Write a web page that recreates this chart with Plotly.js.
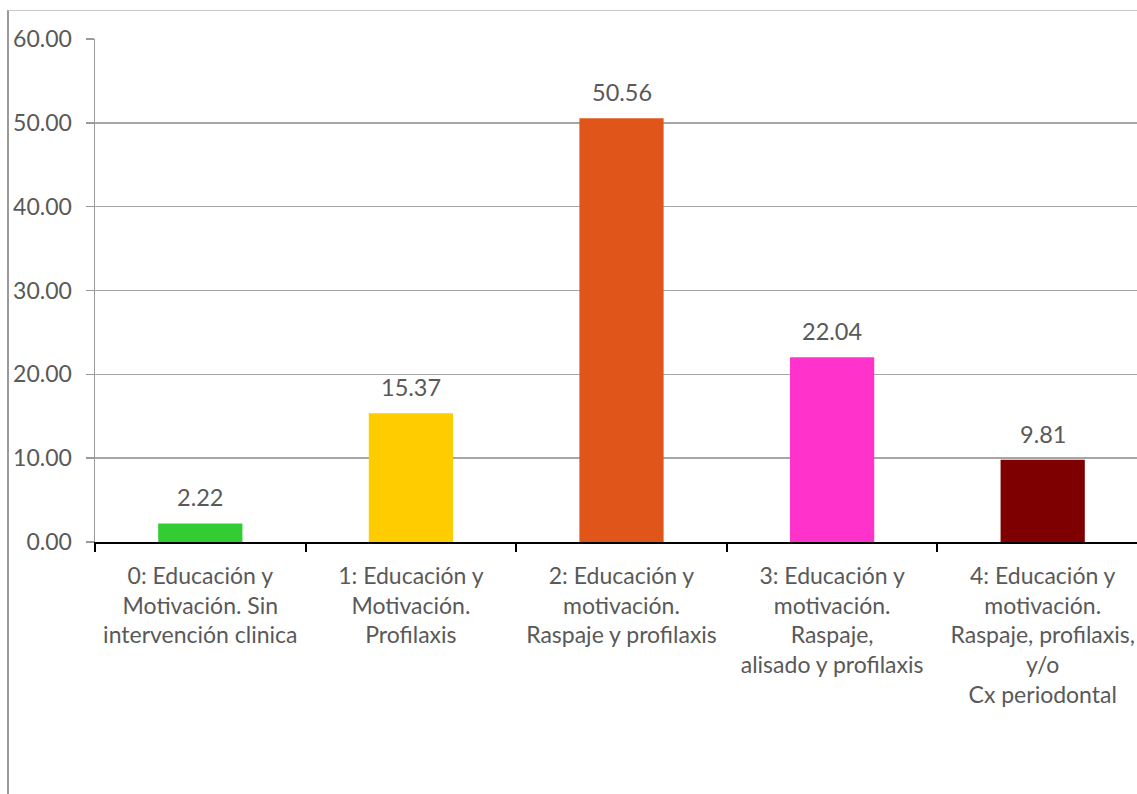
<!DOCTYPE html>
<html>
<head>
<meta charset="utf-8">
<script src="https://cdn.plot.ly/plotly-3.0.1.min.js"></script>
<style>
  html, body { margin: 0; padding: 0; background: #ffffff; overflow: hidden; }
  #wrap { position: relative; width: 1137px; height: 794px; overflow: hidden; }
  #frame { position: absolute; left: 7px; top: 10px; right: 0; bottom: 0;
           border-left: 2px solid #9a9a9a; border-top: 1px solid #c8c8c8; pointer-events: none; z-index: 2; }
  #chart { position: absolute; left: 0; top: 0; }
</style>
</head>
<body>
<div id="wrap">
  <div id="chart"></div>
  <div id="frame"></div>
</div>
<script>
// Treatment need categories and share of cases (%)
const categories = [
  "0: Educación y<br>Motivación. Sin<br>intervención clinica",
  "1: Educación y<br>Motivación.<br>Profilaxis",
  "2: Educación y<br>motivación.<br>Raspaje y profilaxis",
  "3: Educación y<br>motivación.<br>Raspaje,<br>alisado y profilaxis",
  "4: Educación y<br>motivación.<br>Raspaje, profilaxis,<br>y/o<br>Cx periodontal"
];
const values = [2.22, 15.37, 50.56, 22.04, 9.81];
const barColors = ["#33cc33", "#ffcc00", "#e0561a", "#ff33cc", "#7f0000"];
const yTicks = [0, 10, 20, 30, 40, 50, 60];

const fontFamily = "Lato, 'DejaVu Sans', sans-serif";
const tickFont = { family: fontFamily, size: 23, color: "#595959" };
const catFont = { family: fontFamily, size: 23, color: "#595959" };
const valueFont = { family: fontFamily, size: 23.5, color: "#595959" };

const trace = {
  type: "bar",
  x: categories,
  y: values,
  marker: { color: barColors, line: { width: 0 } },
  hoverinfo: "skip"
};

// value labels sit just above each bar
const annotations = values.map((v, i) => ({
  x: categories[i],
  y: v,
  xref: "x",
  yref: "y",
  text: v.toFixed(2),
  showarrow: false,
  yanchor: "bottom",
  yshift: 10,
  font: valueFont
}));

const layout = {
  width: 1148,
  height: 794,
  margin: { l: 95, r: 0, t: 39, b: 252 },
  paper_bgcolor: "rgba(0,0,0,0)",
  plot_bgcolor: "#ffffff",
  showlegend: false,
  bargap: 0.6,
  font: tickFont,
  xaxis: {
    type: "category",
    range: [-0.5, 4.5],
    showline: true,
    linecolor: "#000000",
    linewidth: 2,
    showgrid: false,
    tickson: "boundaries",
    ticks: "outside",
    ticklen: 8,
    tickwidth: 2,
    tickcolor: "#000000",
    tickangle: 0,
    ticklabelstandoff: 12,
    tickfont: catFont,
    fixedrange: true
  },
  yaxis: {
    range: [0, 60],
    tickvals: yTicks,
    tickformat: ".2f",
    showline: true,
    linecolor: "#9a9a9a",
    linewidth: 1.5,
    showgrid: true,
    gridcolor: "#a6a6a6",
    gridwidth: 1.5,
    zeroline: false,
    ticks: "outside",
    ticklen: 8,
    tickcolor: "#9a9a9a",
    tickwidth: 1.5,
    ticklabelstandoff: 9,
    tickfont: tickFont,
    fixedrange: true
  },
  annotations: annotations
};

Plotly.newPlot("chart", [trace], layout, { displayModeBar: false, staticPlot: true });
</script>
</body>
</html>
